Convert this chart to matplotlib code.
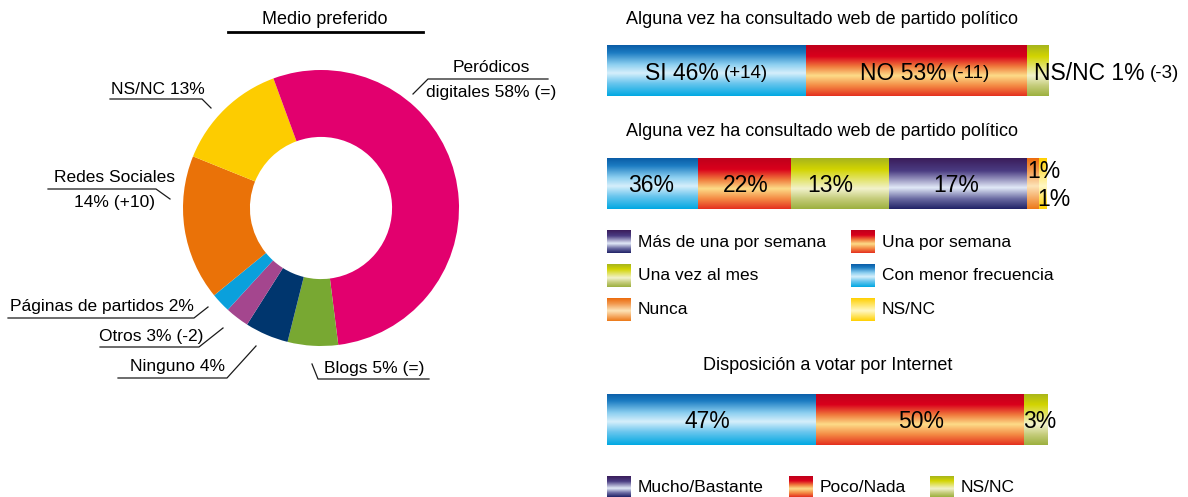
import numpy as np
import matplotlib.pyplot as plt
from matplotlib.colors import LinearSegmentedColormap

plt.rcParams['font.family'] = ['Liberation Sans', 'DejaVu Sans']

W, H = 1188, 497

# --- donut: "Medio preferido" ---
# angular shares as drawn in the original (magenta is split: main piece + piece left of 12 o'clock)
donut_share = [48, 5.9, 5.1, 2.8, 2.3, 17, 13.3, 5.6]
donut_colors = ['#e2006e', '#78a832', '#00366e', '#a4468e', '#0aa0dc', '#ea7208', '#fdcc00', '#e2006e']

# --- bar 1: consulted web of political party ---
bar1_share = [45.1, 50.1, 4.8]
bar1_keys = ['blue', 'red', 'green']
bar1_text = ['SI 46%', 'NO 53%', 'NS/NC 1%']
bar1_delta = ['(+14)', '(-11)', '(-3)']
# --- bar 2: frequency ---
bar2_share = [20.7, 21.3, 22.3, 31.4, 2.6, 1.7]
bar2_keys = ['blue', 'red', 'green', 'purple', 'orange', 'yellow']
bar2_text = ['36%', '22%', '13%', '17%']
# --- bar 3: vote by internet ---
bar3_share = [47.3, 47.3, 5.4]
bar3_keys = ['blue', 'red', 'green']
bar3_text = ['47%', '50%', '3%']

legend2_labels = ['Más de una por semana', 'Una por semana', 'Una vez al mes',
                  'Con menor frecuencia', 'Nunca', 'NS/NC']
legend2_keys = ['purple', 'red', 'green', 'blue', 'orange', 'yellow']
legend3_labels = ['Mucho/Bastante', 'Poco/Nada', 'NS/NC']
legend3_keys = ['purple', 'red', 'green']

grad = {
    'blue':   [(0, '#0a5ca6'), (0.15, '#1c7cc2'), (0.38, '#8ccff0'), (0.55, '#d6effb'),
               (0.75, '#6ac6ee'), (1, '#00a8e2')],
    'red':    [(0, '#bf001c'), (0.22, '#d9001b'), (0.42, '#f07a3c'), (0.6, '#fddc88'),
               (0.8, '#f48a44'), (1, '#e42f1e')],
    'green':  [(0, '#a6b41e'), (0.22, '#d2d400'), (0.6, '#f2f2cc'), (0.8, '#c4cc7a'), (1, '#9cb03e')],
    'purple': [(0, '#3a1c5a'), (0.25, '#4a3c82'), (0.58, '#e2eaf8'), (0.8, '#6a6aa2'), (1, '#202266')],
    'orange': [(0, '#ec6a0c'), (0.25, '#f29a50'), (0.55, '#fde4b8'), (0.8, '#f5a860'), (1, '#ec7818')],
    'yellow': [(0, '#ffd000'), (0.55, '#fff8c4'), (1, '#ffd000')],
}
cmaps = {k: LinearSegmentedColormap.from_list(k, v) for k, v in grad.items()}
gimg = np.linspace(0, 1, 256).reshape(-1, 1)

fig = plt.figure(figsize=(W / 100, H / 100), dpi=100)


def px_axes(x0, y0, x1, y1):
    return fig.add_axes([x0 / W, 1 - y1 / H, (x1 - x0) / W, (y1 - y0) / H])


def gradient_bar(ax, shares, keys):
    left = 0
    for s, k in zip(shares, keys):
        ax.imshow(gimg, cmap=cmaps[k], extent=[left, left + s, 0, 1], aspect='auto',
                  interpolation='bilinear', vmin=0, vmax=1)
        left += s
    ax.set_xlim(0, left)
    ax.set_ylim(0, 1)
    ax.axis('off')


# donut
cx, cy, R = 321, 208, 138
pax = px_axes(cx - R, cy - R, cx + R, cy + R)
pax.pie(donut_share, colors=donut_colors, startangle=90, counterclock=False,
        radius=1, wedgeprops=dict(width=0.485, linewidth=0))
pax.set_xlim(-1, 1)
pax.set_ylim(-1, 1)
pax.axis('off')

# bars
gradient_bar(px_axes(607, 45, 1048, 96), bar1_share, bar1_keys)
gradient_bar(px_axes(607, 158, 1046, 209), bar2_share, bar2_keys)
gradient_bar(px_axes(607, 394, 1048, 445), bar3_share, bar3_keys)

# overlay in pixel coordinates
ax = fig.add_axes([0, 0, 1, 1])
ax.set_autoscale_on(False)
ax.set_xlim(0, W)
ax.set_ylim(H, 0)
ax.axis('off')

ln = dict(color='#1a1a1a', lw=0.9)
fs = 12.5

# donut title and labels
ax.text(325, 20, 'Medio preferido', fontsize=13, ha='center', va='center')
ax.plot([228, 423], [32, 32], color='black', lw=2)

ax.text(491, 68, 'Peródicos', fontsize=fs, ha='center', va='center')
ax.text(491, 93, 'digitales 58% (=)', fontsize=fs, ha='center', va='center')
ax.plot([548, 428, 413], [79, 79, 94], **ln)

ax.text(158, 90, 'NS/NC 13%', fontsize=fs, ha='center', va='center')
ax.plot([110, 202, 211], [99, 99, 108], **ln)

ax.text(114, 178, 'Redes Sociales', fontsize=fs, ha='center', va='center')
ax.text(114, 202, '14% (+10)', fontsize=fs, ha='center', va='center')
ax.plot([48, 156, 170], [189, 189, 199], **ln)

ax.text(102, 307, 'Páginas de partidos 2%', fontsize=fs, ha='center', va='center')
ax.plot([8, 194, 208], [318, 318, 307], **ln)

ax.text(151, 337, 'Otros 3% (-2)', fontsize=fs, ha='center', va='center')
ax.plot([100, 199, 223], [347, 347, 328], **ln)

ax.text(177, 367, 'Ninguno 4%', fontsize=fs, ha='center', va='center')
ax.plot([118, 227, 256], [378, 378, 346], **ln)

ax.text(374, 369, 'Blogs 5% (=)', fontsize=fs, ha='center', va='center')
ax.plot([429, 318, 312], [379, 379, 364], **ln)

# right side titles
ax.text(626, 20, 'Alguna vez ha consultado web de partido político', fontsize=13, ha='left', va='center')
ax.text(626, 132, 'Alguna vez ha consultado web de partido político', fontsize=13, ha='left', va='center')
ax.text(828, 366, 'Disposición a votar por Internet', fontsize=13, ha='center', va='center')

# bar 1 texts: big value ends where the smaller delta starts
big, small = 16.5, 13.5
for xe, t, d in zip([719, 947, 1145], bar1_text, bar1_delta):
    ax.text(xe, 73, t, fontsize=big, ha='right', va='center')
    ax.text(xe + 5, 74, d, fontsize=small, ha='left', va='center')

# bar 2 texts
for x, t in zip([651, 746, 830, 956], bar2_text):
    ax.text(x, 186, t, fontsize=big, ha='center', va='center')
ax.text(1027, 172, '1%', fontsize=big, ha='left', va='center')
ax.text(1037, 199, '1%', fontsize=big, ha='left', va='center')

# bar 3 texts
for x, t in zip([707, 921, 1040], bar3_text):
    ax.text(x, 421, t, fontsize=big, ha='center', va='center')


def patch(x0, y0, x1, y1, key):
    ax.imshow(gimg, cmap=cmaps[key], extent=[x0, x1, y1, y0], aspect='auto',
              interpolation='bilinear', vmin=0, vmax=1)


# legend for bar 2
rows = [230, 264, 298]
cols = [(607, 638), (851, 882)]
for i, (lab, key) in enumerate(zip(legend2_labels, legend2_keys)):
    r, c = divmod(i, 2)
    px0, tx = cols[c]
    y0 = rows[r]
    patch(px0, y0, px0 + 24, y0 + 23, key)
    ax.text(tx, y0 + 12, lab, fontsize=fs, ha='left', va='center')

# legend for bar 3
for (px0, tx), lab, key in zip([(607, 638), (789, 820), (930, 961)], legend3_labels, legend3_keys):
    patch(px0, 476, px0 + 24, 497, key)
    ax.text(tx, 487, lab, fontsize=fs, ha='left', va='center')

ax.set_xlim(0, W)
ax.set_ylim(H, 0)

fig.savefig('out.png', dpi=100)
